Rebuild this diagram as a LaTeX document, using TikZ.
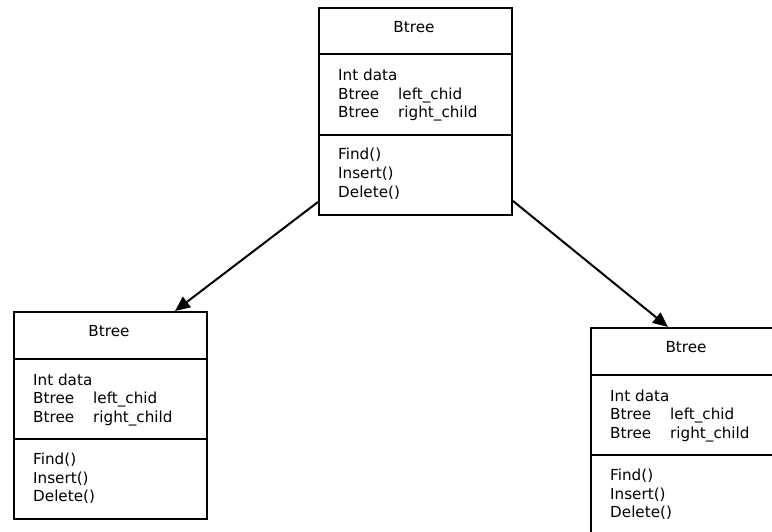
\documentclass[tikz,border=0pt]{standalone}
\usepackage{fontspec}
\setmainfont{DejaVu Sans}
\usetikzlibrary{arrows.meta}
\tikzset{
  umlbox/.style={draw, line width=2pt, minimum width=193pt, minimum height=207pt, anchor=north west, inner sep=0pt},
  divider/.style={line width=2pt},
  txt/.style={anchor=base west, inner sep=0pt, font=\fontsize{15.2}{18}\selectfont},
  ttl/.style={anchor=center, inner sep=0pt, font=\fontsize{15.2}{18}\selectfont},
  link/.style={line width=2pt, -{Triangle[length=15pt,width=13pt]}}
}
\newcommand\attr[2]{\makebox[60pt][l]{#1}#2}
\newcommand\classbox[3]{%
  \node[umlbox] (#1) at (#2,#3) {};
  \draw[divider] ([yshift=-47.5pt]#1.north west) -- ([yshift=-47.5pt]#1.north east);
  \draw[divider] ([yshift=-128pt]#1.north west) -- ([yshift=-128pt]#1.north east);
  \node[ttl] (#1-t) at ([xshift=96pt,yshift=-20pt]#1.north west) {Btree};
  \node[txt] (#1-a1) at ([xshift=20pt,yshift=-74pt]#1.north west) {Int data};
  \node[txt] (#1-a2) at ([xshift=20pt,yshift=-92.5pt]#1.north west) {\attr{Btree}{left\_chid}};
  \node[txt] (#1-a3) at ([xshift=20pt,yshift=-111pt]#1.north west) {\attr{Btree}{right\_child}};
  \node[txt] (#1-m1) at ([xshift=20pt,yshift=-153pt]#1.north west) {Find()};
  \node[txt] (#1-m2) at ([xshift=20pt,yshift=-172pt]#1.north west) {Insert()};
  \node[txt] (#1-m3) at ([xshift=20pt,yshift=-190.5pt]#1.north west) {Delete()};
}
\begin{document}
\begin{tikzpicture}[x=1pt,y=-1pt]
\useasboundingbox (0,0) rectangle (772,532);
\clip (0,0) rectangle (772,532);
\fill[white] (0,0) rectangle (772,532);
\classbox{top}{318}{7}
\classbox{lft}{13}{311}
\classbox{rgt}{590}{327}
\coordinate (s1) at ([yshift=14pt]top.south west);
\coordinate (s2) at ([yshift=15pt]top.south east);
\coordinate (e1) at ([xshift=162pt]lft.north west);
\coordinate (e2) at ([xshift=78pt]rgt.north west);
\draw[link] (s1) -- (e1);
\draw[link] (s2) -- (e2);
\end{tikzpicture}
\end{document}
